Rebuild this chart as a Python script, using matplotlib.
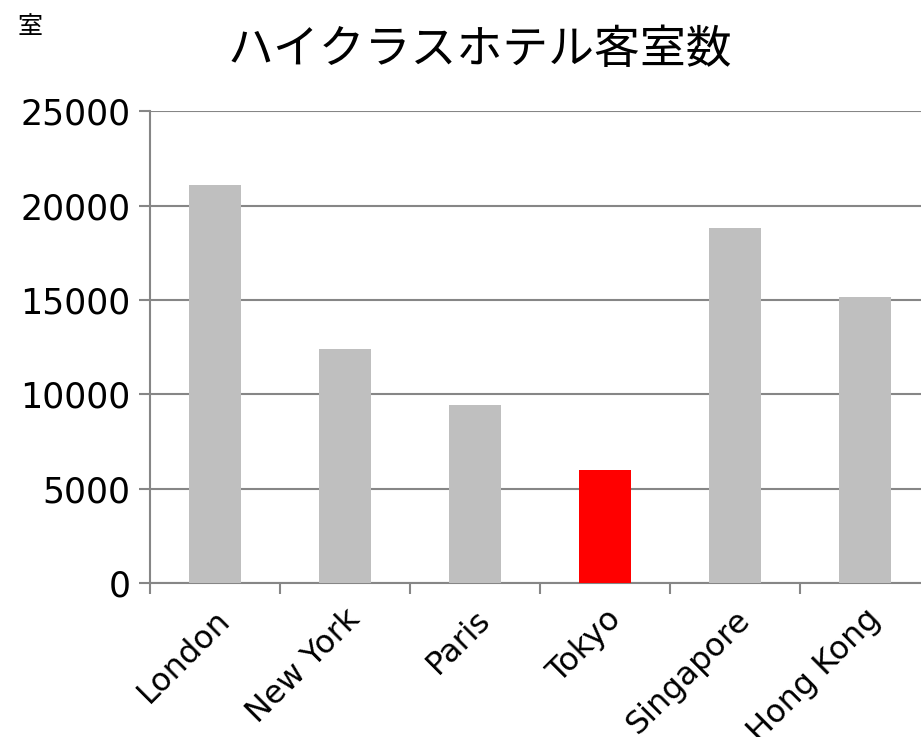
import matplotlib
matplotlib.use("Agg")
import matplotlib.pyplot as plt

plt.rcParams['font.family'] = ['DejaVu Sans', 'Noto Sans CJK JP']

cities = ['London', 'New York', 'Paris', 'Tokyo', 'Singapore', 'Hong Kong']
rooms = [21120, 12420, 9450, 6000, 18840, 15150]
bar_colors = ['#bfbfbf', '#bfbfbf', '#bfbfbf', '#ff0000', '#bfbfbf', '#bfbfbf']
yticks = [0, 5000, 10000, 15000, 20000, 25000]

axis_gray = '#868686'

fig = plt.figure(figsize=(9.21, 7.37), dpi=100)
# plot area runs slightly past the right edge of the canvas
ax = fig.add_axes([150 / 921, 1 - 583 / 737, 780 / 921, 471.5 / 737])

x = list(range(len(cities)))
ax.bar(x, rooms, width=0.4, color=bar_colors, zorder=3)

ax.set_xlim(-0.5, len(cities) - 0.5)
ax.set_ylim(0, 25000)
ax.set_yticks(yticks)
ax.set_yticklabels([str(v) for v in yticks], fontsize=25)
ax.yaxis.grid(True, color=axis_gray, linewidth=1.5, zorder=0)

# category ticks sit on the boundaries between bars
ax.set_xticks([i - 0.5 for i in range(len(cities) + 1)])
ax.set_xticklabels([])
ax.set_xticks(x, minor=True)
ax.set_xticklabels(cities, minor=True, rotation=45, ha='right', va='top',
                   rotation_mode='anchor', fontsize=23)
ax.tick_params(axis='x', which='major', length=8, width=1.5, color=axis_gray)
ax.tick_params(axis='x', which='minor', length=0, pad=15)
ax.tick_params(axis='y', length=8, width=1.5, color=axis_gray, pad=6)

for side in ['top', 'right']:
    ax.spines[side].set_visible(False)
for side in ['left', 'bottom']:
    ax.spines[side].set_color(axis_gray)
    ax.spines[side].set_linewidth(1.5)

fig.text(480 / 921, 1 - 50 / 737, 'ハイクラスホテル客室数', fontsize=33,
         ha='center', va='center', family=['Noto Sans CJK JP', 'DejaVu Sans'])
fig.text(18 / 921, 1 - 27 / 737, '室', fontsize=18,
         ha='left', va='center', family=['Noto Sans CJK JP', 'DejaVu Sans'])

fig.savefig('out.png', dpi=100)
